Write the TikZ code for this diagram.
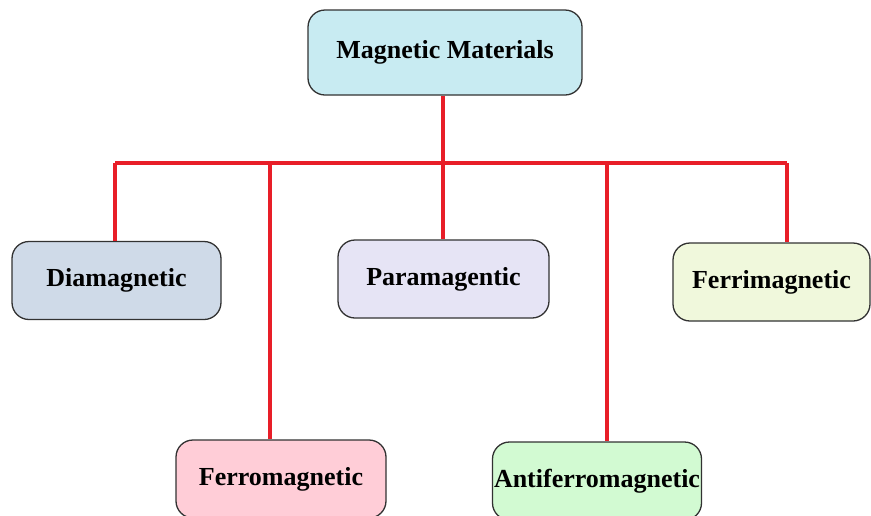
\documentclass[tikz,border=0pt]{standalone}
\usepackage{fontspec}
\setmainfont{Liberation Serif}
\usetikzlibrary{calc}

\definecolor{topfill}{RGB}{200,235,242}
\definecolor{diafill}{RGB}{207,218,232}
\definecolor{parafill}{RGB}{230,228,245}
\definecolor{ferrifill}{RGB}{240,248,220}
\definecolor{ferrofill}{RGB}{255,205,215}
\definecolor{antifill}{RGB}{210,250,210}
\definecolor{linkred}{RGB}{232,30,40}
\definecolor{edgegray}{RGB}{50,50,50}

\tikzset{
  matbox/.style={draw=edgegray, line width=1.3pt, rounded corners=17pt,
    minimum height=78pt, inner sep=0pt,
    font=\fontsize{26}{30}\selectfont\bfseries},
  link/.style={draw=linkred, line width=4pt}
}

\begin{document}
\begin{tikzpicture}[x=1pt, y=-1pt]

    % Fix the page to the size of the reference
    \useasboundingbox (0,0) rectangle (871,515);

    % Top box
    \node[matbox, fill=topfill, minimum width=274pt, minimum height=85pt] (mm) at (445,52.5) {Magnetic Materials};

    % Upper row of boxes
    \node[matbox, fill=diafill, minimum width=209pt] (dia) at (116.5,280.5) {Diamagnetic};
    \node[matbox, fill=parafill, minimum width=211pt] (para) at (443.5,279) {Paramagentic};
    \node[matbox, fill=ferrifill, minimum width=197pt] (ferri) at (771.5,282) {Ferrimagnetic};

    % Lower row of boxes
    \node[matbox, fill=ferrofill, minimum width=210pt] (ferro) at (281,479) {Ferromagnetic};
    \node[matbox, fill=antifill, minimum width=209pt] (anti) at (597,481) {Antiferromagnetic};

    % Points where the drops leave the horizontal red line
    \coordinate (b1) at (115,163);
    \coordinate (b2) at (270,163);
    \coordinate (b3) at (443,163);
    \coordinate (b4) at (607,163);
    \coordinate (b5) at (787,163);

    % Trunk and horizontal line
    \draw[link] (b3 |- mm.south) -- (b3);
    \draw[link] (b1) -- (b5);

    % Drops to each box
    \draw[link] (b1) -- (b1 |- dia.north);
    \draw[link] (b2) -- (b2 |- ferro.north);
    \draw[link] (b3) -- (b3 |- para.north);
    \draw[link] (b4) -- (b4 |- anti.north);
    \draw[link] (b5) -- (b5 |- ferri.north);

\end{tikzpicture}
\end{document}
